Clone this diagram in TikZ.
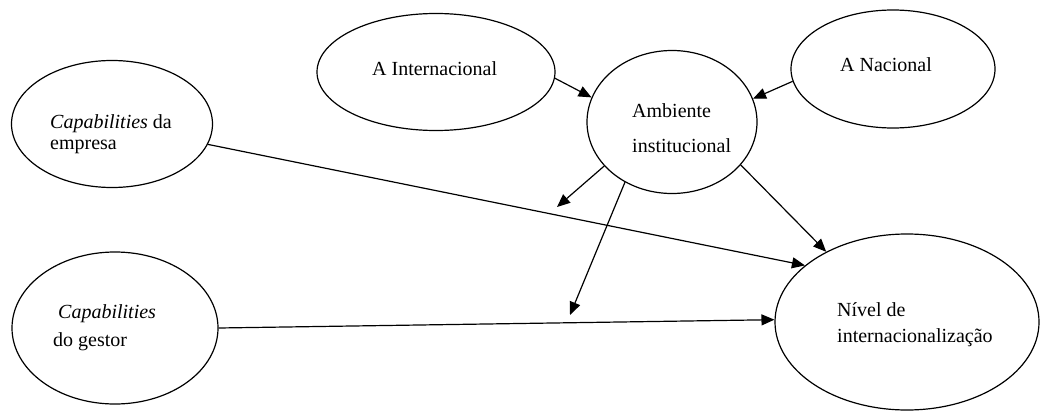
\documentclass[tikz,border=0pt]{standalone}
\usepackage{fontspec}
\setmainfont{Liberation Serif}
\usetikzlibrary{shapes.geometric,arrows.meta}
\begin{document}
\begin{tikzpicture}[x=1pt,y=-1pt,
  oval/.style={draw, ellipse, line width=1.2pt, inner sep=0pt},
  lbl/.style={anchor=base west, inner sep=0pt, font=\fontsize{20}{24}\selectfont},
  arr/.style={line width=1.2pt, -{Triangle[length=13pt,width=11pt]}}]
\useasboundingbox[fill=white] (0,0) rectangle (1041,412);
% ellipses
\node[oval, minimum width=238pt, minimum height=117pt] (ai)  at (436,72)  {};
\node[oval, minimum width=204pt, minimum height=118pt] (an)  at (893,69)  {};
\node[oval, minimum width=170pt, minimum height=143pt] (amb) at (672,122) {};
\node[oval, minimum width=201pt, minimum height=127pt] (ce)  at (112,124) {};
\node[oval, minimum width=206pt, minimum height=152pt] (cg)  at (115,328) {};
\node[oval, minimum width=264pt, minimum height=176pt] (ni)  at (907,322) {};
% labels
\node[lbl] (tai)   at (372,75)  {A Internacional};
\node[lbl] (tan)   at (840,71)  {A Nacional};
\node[lbl] (tamb1) at (632,117) {Ambiente};
\node[lbl] (tamb2) at (632,152) {institucional};
\node[lbl] (tce1)  at (50,128)  {\textit{Capabilities} da};
\node[lbl] (tce2)  at (50,149)  {empresa};
\node[lbl] (tcg1)  at (58,318)  {\textit{Capabilities}};
\node[lbl] (tcg2)  at (53,346)  {do gestor};
\node[lbl] (tni1)  at (837,316) {Nível de};
\node[lbl] (tni2)  at (837,342) {internacionalização};
% free ends
\coordinate (c1) at (557,207);
\coordinate (c2) at (570,315);
% connectors
\draw[arr] (ai.-3.5) -- (amb.163);
\draw[arr] (an.-173) -- (amb.16);
\draw[arr] (amb.-147) -- (c1);
\draw[arr] (amb.-128) -- (c2);
\draw[arr] (amb.-32) -- (ni.139);
\draw[arr] (ce.-12) -- (ni.151);
\draw[arr] (cg.-0.5) -- (ni.179);
\end{tikzpicture}
\end{document}
